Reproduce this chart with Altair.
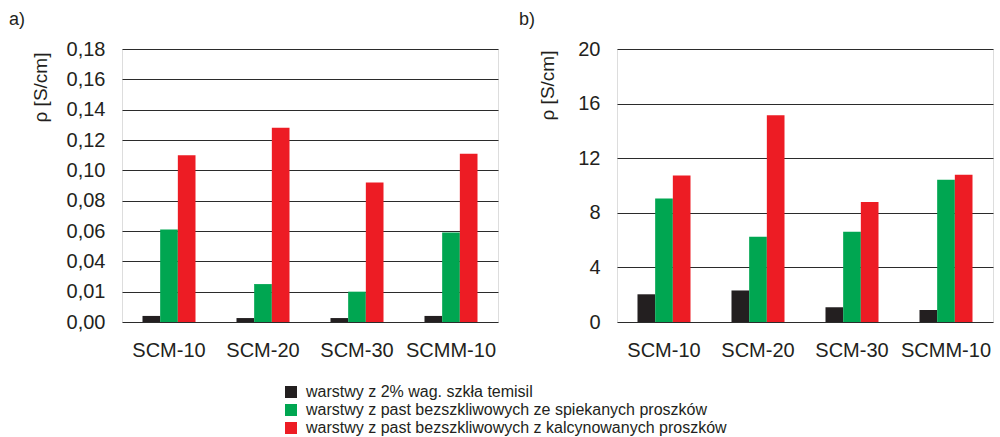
import altair as alt
import pandas as pd

FONT = "Liberation Sans"
INK = "#231f20"

categories = ["SCM-10", "SCM-20", "SCM-30", "SCMM-10"]
series = [
    "warstwy z 2% wag. szkła temisil",
    "warstwy z past bezszkliwowych ze spiekanych proszków",
    "warstwy z past bezszkliwowych z kalcynowanych proszków",
]
colors = ["#231f20", "#00a651", "#ed1c24"]

# panel a) conductivity, S/cm
a_glass = [0.004, 0.0026, 0.0026, 0.004]
a_sintered = [0.061, 0.025, 0.020, 0.059]
a_calcined = [0.110, 0.128, 0.092, 0.111]

# panel b) conductivity, S/cm
b_glass = [2.03, 2.31, 1.08, 0.88]
b_sintered = [9.05, 6.25, 6.62, 10.42]
b_calcined = [10.73, 15.14, 8.80, 10.78]

a_ticks = [0.00, 0.02, 0.04, 0.06, 0.08, 0.10, 0.12, 0.14, 0.16, 0.18]
a_tick_labels = ["0,00", "0,01", "0,04", "0,06", "0,08", "0,10", "0,12", "0,14", "0,16", "0,18"]
b_ticks = [0, 4, 8, 12, 16, 20]
b_tick_labels = ["0", "4", "8", "12", "16", "20"]


def long_table(groups):
    rows = []
    for s, vals in zip(series, groups):
        for c, v in zip(categories, vals):
            rows.append({"kategoria": c, "seria": s, "wartosc": v})
    return pd.DataFrame(rows)


def label_expr(ticks, labels):
    parts = []
    for t, l in zip(ticks, labels):
        parts.append(f"abs(datum.value - {t}) < 1e-9 ? '{l}'")
    return " : ".join(parts) + " : ''"


def panel(df, ticks, labels, domain, letter, letter_dx, title_x, title_y, legend):
    return (
        alt.Chart(df)
        .mark_bar()
        .encode(
            x=alt.X(
                "kategoria:N",
                sort=categories,
                scale=alt.Scale(paddingInner=0.436, paddingOuter=0.218),
                axis=alt.Axis(
                    title=None, labelAngle=0, labelFontSize=20, labelFont=FONT,
                    labelColor=INK, labelPadding=18, ticks=False, domain=False,
                    grid=False,
                ),
            ),
            xOffset=alt.XOffset(
                "seria:N", sort=series,
                scale=alt.Scale(paddingInner=0, paddingOuter=0),
            ),
            y=alt.Y(
                "wartosc:Q",
                scale=alt.Scale(domain=domain, nice=False, zero=True),
                axis=alt.Axis(
                    values=ticks, labelExpr=label_expr(ticks, labels),
                    title="ρ [S/cm]", titleFont=FONT, titleFontSize=19,
                    titleFontWeight="normal", titleColor=INK,
                    titleX=title_x, titleY=title_y, titleAlign="center",
                    titleBaseline="middle", titleAngle=270,
                    labelFontSize=20, labelFont=FONT, labelColor=INK,
                    labelPadding=17, ticks=False, domain=False,
                    grid=True, gridColor="#2b2b2b", gridWidth=1,
                ),
            ),
            color=alt.Color(
                "seria:N", sort=series,
                scale=alt.Scale(domain=series, range=colors),
                legend=legend,
            ),
        )
        .properties(
            width=376,
            height=273,
            title=alt.TitleParams(
                text=letter, anchor="start", frame="group", dx=letter_dx,
                fontSize=18, fontWeight="normal", font=FONT, color=INK,
                offset=10,
            ),
        )
    )


legend = alt.Legend(
    title=None, orient="none", legendX=161, legendY=335, direction="vertical",
    symbolType="square", symbolSize=144, symbolStrokeWidth=0,
    labelFont=FONT, labelFontSize=16, labelColor=INK, labelOffset=7,
    rowPadding=2, labelLimit=600,
)

left = panel(long_table([a_glass, a_sintered, a_calcined]), a_ticks, a_tick_labels,
             [0, 0.18], "a)", -113, -82, 38, legend)
right = panel(long_table([b_glass, b_sintered, b_calcined]), b_ticks, b_tick_labels,
              [0, 20], "b)", -98, -70, 36, legend)

chart = (
    alt.hconcat(left, right, spacing=119, bounds="flush")
    .properties(padding={"left": 8, "top": 10, "right": 0, "bottom": 0})
    .configure_view(stroke="#333333", strokeWidth=1)
    .configure(background="white")
)

chart.save("out.html", embed_options={"renderer": "svg", "actions": False})
